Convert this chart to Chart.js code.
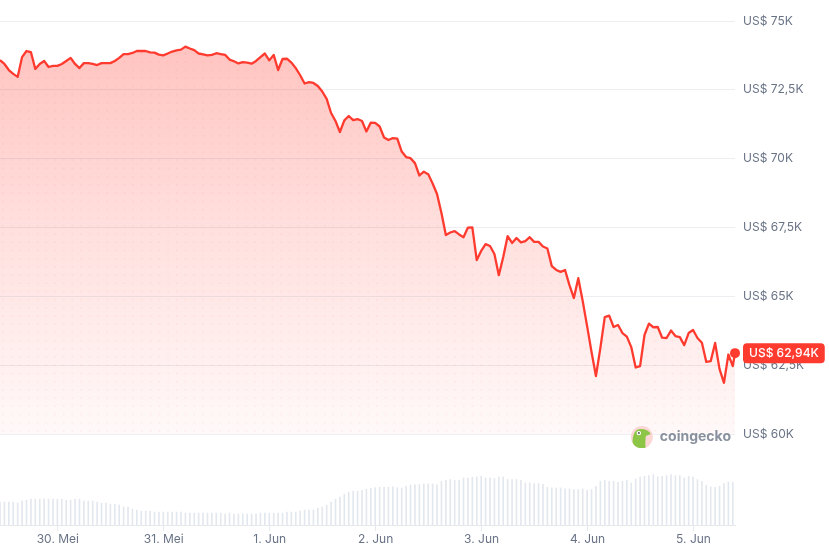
<!DOCTYPE html>
<html>
<head>
<meta charset="utf-8">
<script src="https://cdn.jsdelivr.net/npm/chart.js@4/dist/chart.umd.min.js"></script>
<style>
  html, body { margin: 0; padding: 0; background: #fff; }
  canvas { display: block; }
</style>
</head>
<body>
<canvas id="chart" width="829" height="558"></canvas>
<script>
// harga per jam, mulai 29 Mei sekitar 10:54
const startHour = 10.9;
const prices = [
  73580, 73440, 73220, 73080, 72970, 73690, 73910, 73870, 73260, 73440,
  73550, 73330, 73370, 73370, 73440, 73550, 73660, 73440, 73290, 73470,
  73470, 73440, 73400, 73470, 73470, 73470, 73550, 73660, 73800, 73800,
  73840, 73910, 73910, 73910, 73860, 73850, 73780, 73750, 73820, 73890,
  73930, 73960, 74070, 74000, 73940, 73820, 73790, 73750, 73770, 73830,
  73800, 73770, 73600, 73540, 73460, 73510, 73490, 73450, 73550, 73690,
  73820, 73570, 73770, 73220, 73620, 73630, 73490, 73290, 73030, 72730,
  72780, 72750, 72640, 72440, 72170, 71660, 71370, 70970, 71390, 71550,
  71400, 71440, 71370, 70990, 71310, 71300, 71170, 70770, 70680, 70750,
  70730, 70260, 70060, 70020, 69840, 69390, 69530, 69440, 69100, 68720,
  68030, 67230, 67320, 67370, 67250, 67150, 67500, 67510, 66320, 66650,
  66900, 66830, 66540, 65770, 66430, 67190, 66940, 67120, 66960, 67010,
  67150, 66980, 66980, 66810, 66740, 66100, 65960, 65890, 65960, 65410,
  64940, 65660, 64830, 63920, 62980, 62110, 63120, 64250, 64300, 63890,
  63960, 63670, 63540, 63160, 62420, 62470, 63600, 64010, 63880, 63890,
  63500, 63490, 63760, 63560, 63520, 63230, 63670, 63780, 63490, 63320,
  62620, 62650, 63310, 62360, 61860, 62890, 62470
];
// harga terakhir (sekarang), setengah jam setelah data per jam terakhir
const lastPrice = 62940;
const lastHour = 166.5;

// volume per jam (skala relatif)
const volume = [
  23, 23, 23, 23, 22, 24, 25, 26, 26, 26, 26, 26, 26, 26, 26, 25, 25, 26, 26, 24,
  24, 24, 23, 22, 22, 21, 21, 20, 18, 18, 16, 15, 14, 14, 14, 13, 13, 13, 13, 13,
  13, 13, 12, 12, 12, 12, 12, 12, 12, 12, 12, 11, 12, 11, 11, 11, 11, 11, 11, 12,
  12, 12, 12, 12, 12, 13, 13, 13, 14, 15, 15, 15, 17, 18, 20, 23, 26, 28, 31, 33,
  34, 34, 35, 36, 37, 37.5, 38, 38, 38, 38.5, 37.5, 37.3, 39, 40.3, 40.7, 40.7, 41.3, 41.3, 41.3, 40.3,
  44, 45, 45.7, 45, 45, 47.3, 47.3, 48, 48.3, 49, 47.3, 47.3, 46.7, 48.3, 48.3, 45.7, 45.7, 45.7, 45, 42.3,
  42.3, 41.7, 41.7, 41, 38, 37.3, 37.3, 37.3, 36.3, 36.3, 35.7, 35.7, 36.3, 35, 35.7, 39, 44, 45, 44, 44,
  43, 44, 45, 42.3, 46.3, 48.3, 49, 49.7, 50.7, 48.3, 49, 49.7, 50.7, 49.7, 49.7, 47.3, 49, 48.3, 45.7, 44,
  40, 38.3, 38, 39, 41.7, 43.3, 43
];

const dayLabels = ['30. Mei', '31. Mei', '1. Jun', '2. Jun', '3. Jun', '4. Jun', '5. Jun'];
const priceTicks = [60000, 62500, 65000, 67500, 70000, 72500, 75000];
const priceTickLabels = ['US$ 60K', 'US$ 62,5K', 'US$ 65K', 'US$ 67,5K', 'US$ 70K', 'US$ 72,5K', 'US$ 75K'];

const RED = '#ff3b30';
const FONT = 'Inter, "Noto Sans", sans-serif';

const pricePoints = prices.map((v, i) => ({ x: i, y: v }));
pricePoints.push({ x: lastHour, y: lastPrice });
const volPoints = volume.map((v, i) => ({ x: i, y: v }));

// tekstur titik-titik di area isi
const dots = {
  id: 'dots',
  beforeDatasetDraw(chart, args) {
    if (args.index !== 0) return;
    const ctx = chart.ctx;
    const pts = args.meta.data;
    const base = chart.scales.y.getPixelForValue(60000);
    ctx.save();
    ctx.beginPath();
    ctx.moveTo(pts[0].x, base);
    pts.forEach(p => ctx.lineTo(p.x, p.y));
    ctx.lineTo(pts[pts.length - 1].x, base);
    ctx.closePath();
    ctx.clip();
    ctx.fillStyle = 'rgba(255,59,48,0.07)';
    for (let y = base - 4; y > chart.chartArea.top; y -= 8.2) {
      for (let x = 2; x < chart.chartArea.right; x += 8.7) {
        ctx.fillRect(x, y, 1.5, 1.5);
      }
    }
    ctx.restore();
  }
};

// label harga sekarang + logo coingecko
const overlay = {
  id: 'overlay',
  afterDatasetsDraw(chart) {
    const ctx = chart.ctx;
    const area = chart.chartArea;
    const ys = chart.scales.y;

    // watermark
    const wy = ys.getPixelForValue(60000) + 3;
    ctx.save();
    ctx.font = 'bold 14px ' + FONT;
    ctx.fillStyle = '#8a919e';
    ctx.textAlign = 'right';
    ctx.textBaseline = 'middle';
    ctx.fillText('coingecko', area.right - 4, wy);
    const tw = ctx.measureText('coingecko').width;
    const cx = area.right - 4 - tw - 18, cy = wy;
    ctx.beginPath();
    ctx.arc(cx, cy, 11, 0, Math.PI * 2);
    ctx.fillStyle = '#fdd6d6';
    ctx.fill();
    ctx.save();
    ctx.beginPath();
    ctx.arc(cx, cy, 11, 0, Math.PI * 2);
    ctx.clip();
    ctx.beginPath();
    ctx.moveTo(cx - 9, cy + 12);
    ctx.quadraticCurveTo(cx - 11, cy - 8, cx - 1, cy - 8);
    ctx.quadraticCurveTo(cx + 6, cy - 8, cx + 9, cy - 3);
    ctx.lineTo(cx + 4, cy - 1);
    ctx.quadraticCurveTo(cx + 3, cy + 6, cx + 4, cy + 12);
    ctx.closePath();
    ctx.fillStyle = '#8dc647';
    ctx.fill();
    ctx.restore();
    ctx.beginPath();
    ctx.arc(cx - 3, cy - 4, 2.2, 0, Math.PI * 2);
    ctx.fillStyle = '#fff';
    ctx.fill();
    ctx.beginPath();
    ctx.arc(cx - 3, cy - 4, 1, 0, Math.PI * 2);
    ctx.fillStyle = '#555';
    ctx.fill();
    ctx.restore();

    // badge harga
    const py = ys.getPixelForValue(lastPrice);
    const text = 'US$ ' + (lastPrice / 1000).toFixed(2).replace('.', ',') + 'K';
    ctx.save();
    ctx.font = '500 12px ' + FONT;
    const w = ctx.measureText(text).width + 12;
    const bx = area.right + 8, bh = 20;
    ctx.fillStyle = RED;
    ctx.beginPath();
    ctx.roundRect(bx, py - bh / 2, w, bh, 4);
    ctx.fill();
    ctx.fillStyle = '#fff';
    ctx.textBaseline = 'middle';
    ctx.textAlign = 'left';
    ctx.fillText(text, bx + 6, py + 0.5);
    ctx.restore();
  }
};

new Chart(document.getElementById('chart'), {
  type: 'line',
  data: {
    datasets: [{
      type: 'line',
      data: pricePoints,
      yAxisID: 'y',
      clip: false,
      borderColor: RED,
      borderWidth: 2.3,
      borderJoinStyle: 'round',
      tension: 0,
      pointRadius: ctx => ctx.dataIndex === pricePoints.length - 1 ? 5 : 0,
      pointBackgroundColor: RED,
      pointBorderWidth: 0,
      fill: { value: 60000 },
      backgroundColor: ctx => {
        const { chart } = ctx;
        const area = chart.chartArea;
        if (!area) return 'rgba(255,59,48,0.2)';
        const ys = chart.scales.y;
        const g = chart.ctx.createLinearGradient(0, ys.getPixelForValue(75000), 0, ys.getPixelForValue(60000));
        g.addColorStop(0, 'rgba(255,59,48,0.32)');
        g.addColorStop(0.5, 'rgba(255,59,48,0.16)');
        g.addColorStop(1, 'rgba(255,59,48,0.03)');
        return g;
      },
      order: 1
    }, {
      type: 'bar',
      data: volPoints,
      yAxisID: 'yVol',
      backgroundColor: '#e3e7ee',
      barThickness: 1,
      order: 2
    }]
  },
  plugins: [dots, overlay],
  options: {
    responsive: false,
    animation: false,
    events: [],
    layout: { autoPadding: false, padding: { top: 21, left: 0, right: 0, bottom: 0 } },
    plugins: { legend: { display: false }, tooltip: { enabled: false } },
    scales: {
      x: {
        type: 'linear',
        min: 0,
        max: lastHour,
        offset: false,
        afterBuildTicks: scale => {
          scale.ticks = dayLabels.map((_, k) => ({ value: (24 - startHour) + 24 * k }));
        },
        afterFit: scale => { scale.height = 33; },
        ticks: {
          autoSkip: false,
          maxRotation: 0,
          padding: 1,
          color: '#697386',
          font: { family: FONT, size: 12 },
          callback: (v, i) => dayLabels[i]
        },
        grid: { drawOnChartArea: false, drawTicks: true, tickLength: 6, color: '#e5e8ed', offset: false },
        border: { display: true, color: '#e5e8ed' }
      },
      y: {
        position: 'right',
        min: 56700,
        max: 75000,
        afterBuildTicks: scale => {
          scale.ticks = priceTicks.map(v => ({ value: v }));
        },
        afterFit: scale => { scale.width = 94; },
        ticks: {
          padding: 8,
          color: '#697386',
          font: { family: FONT, size: 12 },
          callback: (v, i) => priceTickLabels[i]
        },
        grid: { drawTicks: false, color: '#eceef2' },
        border: { display: false }
      },
      yVol: {
        display: false,
        min: 0,
        max: Math.max(...volume) * 10
      }
    }
  }
});
</script>
</body>
</html>
